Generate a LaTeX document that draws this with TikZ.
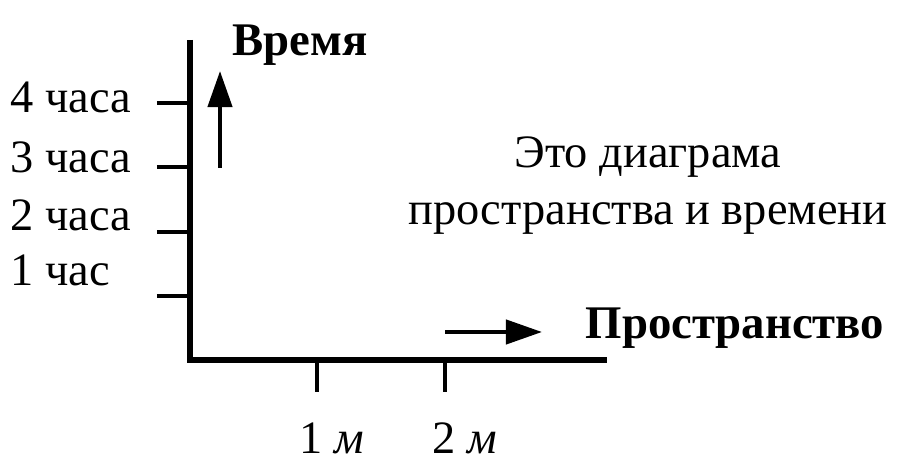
\documentclass[tikz,border=0pt]{standalone}
\usepackage{fontspec}
\setmainfont{Liberation Serif}
\usetikzlibrary{arrows.meta}

\begin{document}
\begin{tikzpicture}[
			x = 0.01cm, y = 0.01cm,
			every node/.style = {font = \fontsize{13.2}{16.2}\selectfont, inner sep = 0pt},
			axis/.style = {line width = 1.5pt},
			tick/.style = {line width = 0.9pt},
			dir/.style = {line width = 1.2pt, -{Triangle[length = 3.6mm, width = 2.4mm]}},
			bold/.style = {font = \fontsize{13.3}{15}\selectfont\bfseries}
			]

			\useasboundingbox (-190,-110) rectangle (710,360);

			\coordinate (O) at (0,0);
			\coordinate (ytop) at (0,320);
			\coordinate (xend) at (417,0);

			\draw[axis] (ytop) -- (O) -- (xend);

			\draw[tick] (-33,64) -- (0,64);
			\draw[tick] (-33,128) -- (0,128);
			\draw[tick] (-33,193) -- (0,193);
			\draw[tick] (-33,257) -- (0,257);
			\draw[tick] (127,0) -- (127,-32);
			\draw[tick] (255,0) -- (255,-32);

			\node[anchor = west] (h4) at (-180,263) {4 часа};
			\node[anchor = west] (h3) at (-180,203) {3 часа};
			\node[anchor = west] (h2) at (-180,145) {2 часа};
			\node[anchor = west] (h1) at (-180,90) {1 час};
			\node (m1) at (142,-78) {1 \textit{м}};
			\node (m2) at (275,-78) {2 \textit{м}};

			\coordinate (tfrom) at (30,192);
			\coordinate (tto) at (30,289);
			\draw[dir] (tfrom) -- (tto);
			\node[bold, anchor = west] (time) at (42,315) {Время};

			\coordinate (sfrom) at (255,28);
			\coordinate (sto) at (352,28);
			\draw[dir] (sfrom) -- (sto);
			\node[bold, anchor = west] (space) at (395,32) {Пространство};

			\node[align = center] (note) at (458,174) {Это диаграма\\пространства и времени};

		\end{tikzpicture}
\end{document}
